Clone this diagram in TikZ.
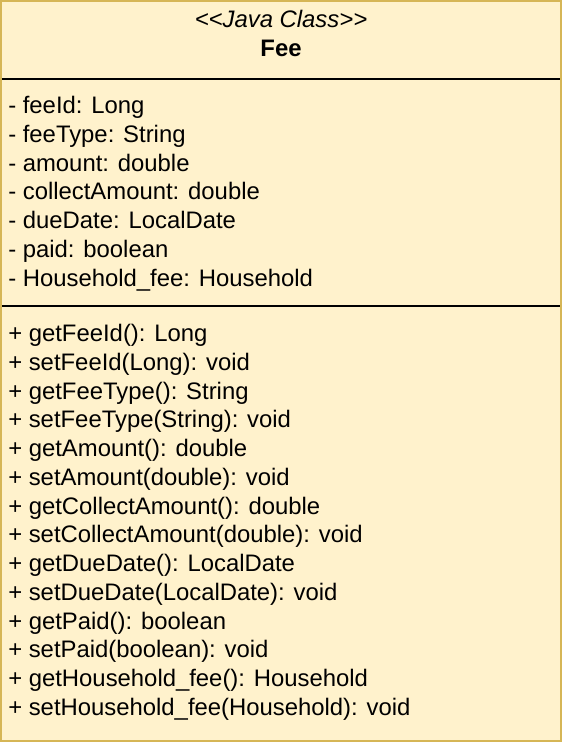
\documentclass[tikz,border=0pt]{standalone}
\usepackage{fontspec}
\setmainfont{Liberation Sans}
\definecolor{classfill}{HTML}{FFF2CC}
\definecolor{classline}{HTML}{D6B656}

\begin{document}
\begin{tikzpicture}[x=0.75pt,y=-0.75pt,
    member/.style={anchor=base west,inner sep=0pt,font=\fontsize{17.9}{21.5}\selectfont},
    title/.style={anchor=base,inner sep=0pt,font=\fontsize{17.9}{21.5}\selectfont}]
      \useasboundingbox (0,0) rectangle (562,742);
      \draw [fill=classfill,draw=classline,line width=1.5pt] (1,1) rectangle (561,741); % Class box.
      \draw [line width=1.5pt] (2,79) -- (560,79); % Header separator.
      \draw [line width=1.5pt] (2,306) -- (560,306); % Attribute separator.

      \node [title] (stereo) at (281,28) {\itshape <{}<Java Class>{}>};
      \node [title] (name) at (281,56.5) {\bfseries Fee};

      \node [member] (feeId) at (8,113.5) {- feeId: Long};
      \node [member] (feeType) at (8,142.25) {- feeType: String};
      \node [member] (amount) at (8,171) {- amount: double};
      \node [member] (collect) at (8,199.75) {- collectAmount: double};
      \node [member] (dueDate) at (8,228.5) {- dueDate: LocalDate};
      \node [member] (paid) at (8,257.25) {- paid: boolean};
      \node [member] (household) at (8,286) {- Household\_fee: Household};

      \node [member] (getId) at (8,341.5) {+ getFeeId(): Long};
      \node [member] (setId) at (8,370.25) {+ setFeeId(Long): void};
      \node [member] (getType) at (8,399) {+ getFeeType(): String};
      \node [member] (setType) at (8,427.75) {+ setFeeType(String): void};
      \node [member] (getAmount) at (8,456.5) {+ getAmount(): double};
      \node [member] (setAmount) at (8,485.25) {+ setAmount(double): void};
      \node [member] (getCollect) at (8,514) {+ getCollectAmount(): double};
      \node [member] (setCollect) at (8,542.75) {+ setCollectAmount(double): void};
      \node [member] (getDue) at (8,571.5) {+ getDueDate(): LocalDate};
      \node [member] (setDue) at (8,600.25) {+ setDueDate(LocalDate): void};
      \node [member] (getPaid) at (8,629) {+ getPaid(): boolean};
      \node [member] (setPaid) at (8,657.75) {+ setPaid(boolean): void};
      \node [member] (getHouse) at (8,686.5) {+ getHousehold\_fee(): Household};
      \node [member] (setHouse) at (8,715.25) {+ setHousehold\_fee(Household): void};
    \end{tikzpicture}
\end{document}
